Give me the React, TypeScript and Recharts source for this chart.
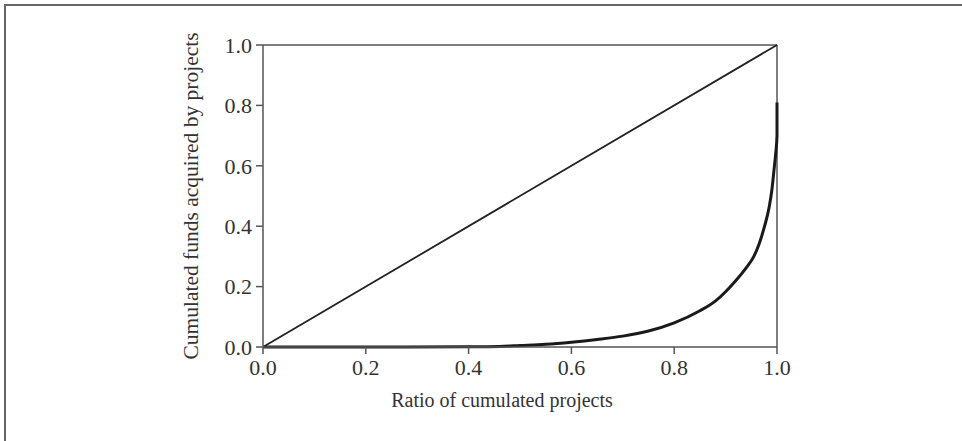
import React from "react";
import { LineChart, Line, XAxis, YAxis, ReferenceLine } from "recharts";

const projectRatio = [0, 0.2, 0.4, 0.46, 0.5, 0.55, 0.6, 0.65, 0.7, 0.75, 0.8, 0.85, 0.88, 0.9, 0.92, 0.94, 0.955, 0.965, 0.975, 0.985, 0.99, 0.995, 0.998, 1.0, 1.0];
const fundsShare = [0, 0, 0.001, 0.002, 0.005, 0.009, 0.016, 0.025, 0.036, 0.053, 0.08, 0.12, 0.152, 0.183, 0.22, 0.262, 0.3, 0.34, 0.395, 0.465, 0.52, 0.6, 0.65, 0.7, 0.81];
const equalityX = [0, 1];
const equalityY = [0, 1];
const tickValues = [0, 0.2, 0.4, 0.6, 0.8, 1.0];
const xLabel = "Ratio of cumulated projects";
const yLabel = "Cumulated funds acquired by projects";

const curveData = projectRatio.map((x, i) => ({ x, y: fundsShare[i] }));
const diagData = equalityX.map((x, i) => ({ x, y: equalityY[i] }));

const axisColor = "#555";
const textColor = "#333";
const font = "'Liberation Serif', 'DejaVu Serif', serif";

export default function App() {
  return (
    <div style={{ position: "absolute", left: 0, top: 0, width: 962, height: 441, overflow: "hidden", background: "#fff" }}>
      <div
        style={{
          position: "absolute",
          left: 4,
          top: 4,
          width: 1000,
          height: 500,
          borderLeft: "2px solid #666",
          borderTop: "2px solid #666",
        }}
      />
      <div style={{ position: "absolute", left: 0, top: 0 }}>
        <LineChart width={962} height={441} margin={{ top: 45, right: 185, bottom: 34, left: 183 }}>
          <XAxis
            dataKey="x"
            type="number"
            domain={[0, 1]}
            ticks={tickValues}
            tickFormatter={(v: number) => v.toFixed(1)}
            allowDuplicatedCategory
            height={60}
            tickSize={7}
            tickMargin={5}
            stroke={axisColor}
            strokeWidth={1.5}
            tick={{ fill: textColor, fontSize: 22, fontFamily: font }}
            tickLine={{ stroke: axisColor, strokeWidth: 1.5 }}
            label={{ value: xLabel, position: "insideBottom", offset: 0, dx: -18, fill: textColor, fontSize: 20, fontFamily: font }}
          />
          <YAxis
            dataKey="y"
            type="number"
            domain={[0, 1]}
            ticks={tickValues}
            tickFormatter={(v: number) => v.toFixed(1)}
            width={80}
            tickSize={7}
            tickMargin={4}
            stroke={axisColor}
            strokeWidth={1.5}
            tick={{ fill: textColor, fontSize: 22, fontFamily: font }}
            tickLine={{ stroke: axisColor, strokeWidth: 1.5 }}
            label={{
              value: yLabel,
              angle: -90,
              position: "insideLeft",
              offset: 7,
              fill: textColor,
              fontSize: 21.5,
              fontFamily: font,
              style: { textAnchor: "middle" },
            }}
          />
          <ReferenceLine y={1} stroke={axisColor} strokeWidth={1.5} ifOverflow="visible" />
          <ReferenceLine x={1} stroke={axisColor} strokeWidth={1.5} ifOverflow="visible" />
          <Line
            data={diagData}
            dataKey="y"
            type="linear"
            stroke="#222"
            strokeWidth={1.8}
            dot={false}
            activeDot={false}
            isAnimationActive={false}
          />
          <Line
            data={curveData}
            dataKey="y"
            type="monotone"
            stroke="#1a1a1a"
            strokeWidth={3}
            dot={false}
            activeDot={false}
            isAnimationActive={false}
          />
        </LineChart>
      </div>
    </div>
  );
}
